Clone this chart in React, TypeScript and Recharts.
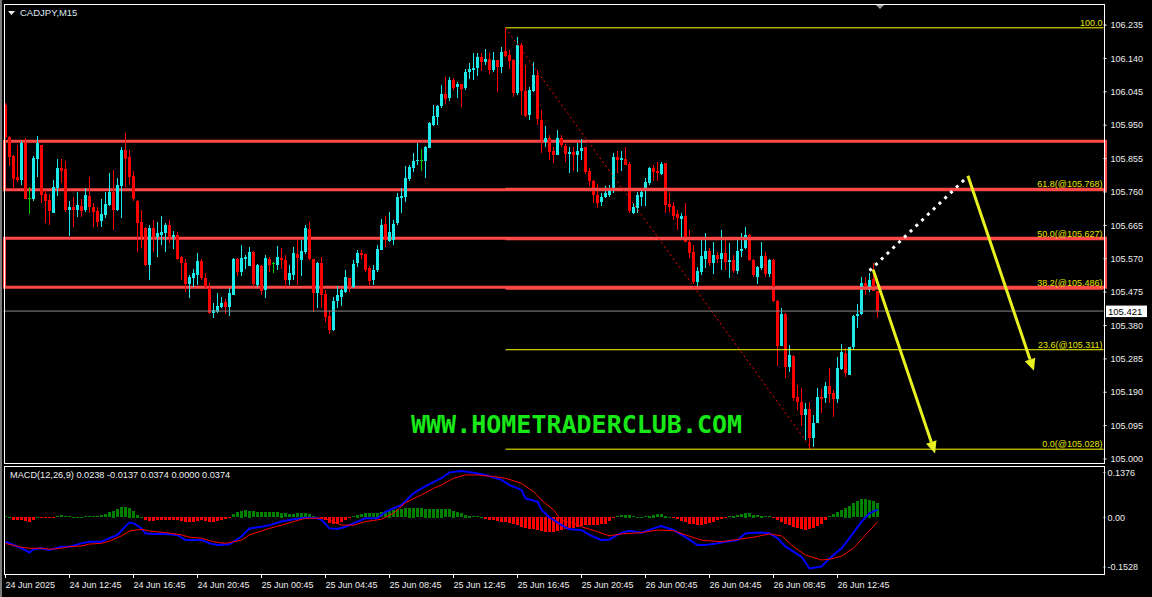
import React from "react";
import {
  ComposedChart,
  Bar,
  Line,
  XAxis,
  YAxis,
  ReferenceLine,
  ReferenceArea,
} from "recharts";

// ---- CADJPY M15 candles (bar 0 = 24 Jun 08:45) ----
const open = [
  106.007, 105.916, 105.862, 105.802, 105.795, 105.900, 105.742, 105.740, 105.854, 105.893,
  105.754, 105.737, 105.701, 105.771, 105.828, 105.825, 105.709, 105.716, 105.709, 105.720,
  105.709, 105.749, 105.718, 105.707, 105.676, 105.694, 105.723, 105.761, 105.709, 105.777,
  105.879, 105.860, 105.805, 105.734, 105.675, 105.657, 105.552, 105.658, 105.633, 105.638,
  105.643, 105.666, 105.631, 105.637, 105.575, 105.559, 105.498, 105.516, 105.524, 105.563,
  105.514, 105.487, 105.416, 105.419, 105.433, 105.448, 105.433, 105.467, 105.569, 105.533,
  105.568, 105.549, 105.590, 105.495, 105.549, 105.481, 105.569, 105.557, 105.552, 105.573,
  105.566, 105.509, 105.524, 105.583, 105.566, 105.590, 105.654, 105.568, 105.473, 105.557,
  105.470, 105.407, 105.367, 105.450, 105.462, 105.476, 105.514, 105.490, 105.557, 105.585,
  105.583, 105.543, 105.509, 105.538, 105.595, 105.668, 105.621, 105.623, 105.671, 105.744,
  105.746, 105.797, 105.827, 105.848, 105.851, 105.849, 105.884, 105.951, 105.973, 106.005,
  106.039, 106.028, 106.079, 106.060, 106.067, 106.055, 106.102, 106.107, 106.112, 106.143,
  106.131, 106.138, 106.106, 106.136, 106.115, 106.160, 106.150, 106.136, 106.041, 106.178,
  106.048, 105.979, 106.048, 106.093, 105.965, 105.903, 105.913, 105.877, 105.865, 105.913,
  105.891, 105.868, 105.874, 105.865, 105.877, 105.887, 105.820, 105.792, 105.751, 105.732,
  105.745, 105.751, 105.770, 105.859, 105.851, 105.855, 105.840, 105.699, 105.713, 105.746,
  105.766, 105.786, 105.827, 105.820, 105.811, 105.842, 105.726, 105.720, 105.697, 105.682,
  105.692, 105.618, 105.590, 105.505, 105.533, 105.568, 105.593, 105.557, 105.581, 105.568,
  105.587, 105.562, 105.566, 105.535, 105.593, 105.600, 105.638, 105.566, 105.519, 105.543,
  105.578, 105.526, 105.566, 105.450, 105.322, 105.413, 105.263, 105.293, 105.176, 105.163,
  105.125, 105.141, 105.059, 105.103, 105.177, 105.173, 105.208, 105.189, 105.170, 105.255,
  105.301, 105.239, 105.318, 105.407, 105.413, 105.500, 105.481, 105.511, 105.479,
];
const high = [
  106.012, 105.918, 105.865, 105.893, 105.905, 105.913, 105.774, 105.862, 105.919, 105.895,
  105.766, 105.754, 105.794, 105.854, 105.854, 105.849, 105.734, 105.746, 105.760, 105.740,
  105.771, 105.803, 105.728, 105.716, 105.740, 105.760, 105.814, 105.823, 105.800, 105.889,
  105.928, 105.880, 105.820, 105.737, 105.709, 105.660, 105.666, 105.680, 105.675, 105.692,
  105.672, 105.680, 105.650, 105.645, 105.578, 105.569, 105.524, 105.540, 105.587, 105.570,
  105.530, 105.500, 105.445, 105.473, 105.460, 105.455, 105.487, 105.572, 105.572, 105.609,
  105.580, 105.604, 105.592, 105.555, 105.552, 105.580, 105.576, 105.562, 105.606, 105.600,
  105.580, 105.552, 105.602, 105.623, 105.623, 105.666, 105.675, 105.568, 105.562, 105.576,
  105.481, 105.424, 105.462, 105.492, 105.483, 105.538, 105.516, 105.565, 105.595, 105.595,
  105.583, 105.550, 105.552, 105.609, 105.683, 105.692, 105.704, 105.680, 105.756, 105.770,
  105.834, 105.836, 105.870, 105.900, 105.882, 105.891, 105.958, 106.007, 106.007, 106.064,
  106.088, 106.088, 106.084, 106.072, 106.067, 106.110, 106.126, 106.155, 106.155, 106.155,
  106.166, 106.155, 106.158, 106.136, 106.172, 106.227, 106.164, 106.138, 106.200, 106.185,
  106.121, 106.060, 106.131, 106.107, 105.993, 105.948, 105.922, 105.887, 105.936, 105.922,
  105.896, 105.887, 105.887, 105.898, 105.910, 105.887, 105.827, 105.794, 105.783, 105.756,
  105.777, 105.780, 105.870, 105.877, 105.877, 105.887, 105.845, 105.728, 105.760, 105.770,
  105.800, 105.830, 105.836, 105.845, 105.846, 105.842, 105.758, 105.730, 105.709, 105.700,
  105.729, 105.652, 105.610, 105.545, 105.623, 105.642, 105.600, 105.618, 105.590, 105.652,
  105.630, 105.614, 105.580, 105.633, 105.643, 105.661, 105.640, 105.570, 105.550, 105.618,
  105.590, 105.570, 105.570, 105.452, 105.429, 105.415, 105.324, 105.296, 105.211, 105.201,
  105.159, 105.163, 105.125, 105.201, 105.198, 105.220, 105.258, 105.196, 105.290, 105.327,
  105.315, 105.320, 105.410, 105.441, 105.517, 105.517, 105.530, 105.557, 105.479,
];
const low = [
  105.910, 105.834, 105.768, 105.788, 105.780, 105.740, 105.697, 105.735, 105.802, 105.730,
  105.672, 105.666, 105.700, 105.749, 105.786, 105.705, 105.635, 105.661, 105.689, 105.689,
  105.704, 105.700, 105.660, 105.660, 105.660, 105.685, 105.720, 105.652, 105.705, 105.686,
  105.775, 105.780, 105.735, 105.590, 105.600, 105.550, 105.509, 105.590, 105.576, 105.609,
  105.590, 105.614, 105.600, 105.566, 105.509, 105.476, 105.458, 105.490, 105.495, 105.510,
  105.485, 105.413, 105.401, 105.416, 105.430, 105.413, 105.408, 105.467, 105.520, 105.522,
  105.540, 105.549, 105.490, 105.490, 105.467, 105.459, 105.533, 105.530, 105.538, 105.540,
  105.490, 105.495, 105.509, 105.495, 105.520, 105.583, 105.568, 105.416, 105.432, 105.430,
  105.391, 105.356, 105.365, 105.430, 105.435, 105.472, 105.476, 105.484, 105.547, 105.568,
  105.533, 105.495, 105.495, 105.533, 105.595, 105.604, 105.618, 105.610, 105.666, 105.699,
  105.732, 105.790, 105.815, 105.837, 105.818, 105.799, 105.884, 105.946, 105.950, 105.998,
  106.012, 106.020, 106.050, 106.026, 106.001, 106.050, 106.081, 106.079, 106.090, 106.103,
  106.121, 106.095, 106.100, 106.045, 106.098, 106.145, 106.110, 106.029, 106.036, 105.979,
  105.972, 105.965, 106.045, 105.951, 105.870, 105.889, 105.851, 105.841, 105.865, 105.889,
  105.846, 105.813, 105.820, 105.816, 105.850, 105.810, 105.777, 105.729, 105.716, 105.720,
  105.742, 105.746, 105.756, 105.813, 105.820, 105.837, 105.700, 105.697, 105.700, 105.720,
  105.720, 105.780, 105.790, 105.790, 105.808, 105.700, 105.704, 105.680, 105.653, 105.633,
  105.618, 105.571, 105.500, 105.492, 105.524, 105.543, 105.550, 105.528, 105.560, 105.538,
  105.540, 105.514, 105.530, 105.528, 105.576, 105.597, 105.562, 105.520, 105.500, 105.538,
  105.520, 105.520, 105.448, 105.263, 105.320, 105.230, 105.248, 105.165, 105.139, 105.092,
  105.054, 105.028, 105.035, 105.100, 105.130, 105.160, 105.158, 105.119, 105.160, 105.253,
  105.233, 105.239, 105.310, 105.372, 105.410, 105.467, 105.476, 105.476, 105.403,
];
const close = [
  105.916, 105.860, 105.796, 105.795, 105.900, 105.740, 105.742, 105.857, 105.900, 105.751,
  105.735, 105.707, 105.774, 105.828, 105.820, 105.709, 105.718, 105.709, 105.723, 105.707,
  105.751, 105.717, 105.704, 105.674, 105.698, 105.726, 105.761, 105.709, 105.780, 105.879,
  105.854, 105.803, 105.740, 105.672, 105.633, 105.552, 105.658, 105.633, 105.644, 105.647,
  105.666, 105.633, 105.637, 105.569, 105.557, 105.498, 105.519, 105.530, 105.564, 105.514,
  105.490, 105.416, 105.424, 105.435, 105.445, 105.433, 105.473, 105.569, 105.533, 105.571,
  105.574, 105.590, 105.498, 105.552, 105.478, 105.573, 105.552, 105.557, 105.574, 105.566,
  105.509, 105.528, 105.585, 105.573, 105.593, 105.656, 105.568, 105.473, 105.557, 105.467,
  105.405, 105.367, 105.450, 105.467, 105.481, 105.519, 105.490, 105.555, 105.585, 105.581,
  105.538, 105.507, 105.538, 105.598, 105.666, 105.623, 105.645, 105.670, 105.746, 105.749,
  105.799, 105.830, 105.848, 105.851, 105.851, 105.887, 105.955, 105.976, 106.005, 106.039,
  106.025, 106.079, 106.057, 106.067, 106.053, 106.102, 106.109, 106.114, 106.143, 106.131,
  106.138, 106.106, 106.136, 106.115, 106.158, 106.147, 106.134, 106.041, 106.178, 106.048,
  105.977, 106.050, 106.093, 105.967, 105.908, 105.913, 105.875, 105.865, 105.913, 105.894,
  105.868, 105.874, 105.865, 105.877, 105.884, 105.818, 105.792, 105.751, 105.729, 105.746,
  105.756, 105.770, 105.859, 105.851, 105.857, 105.837, 105.705, 105.716, 105.751, 105.760,
  105.789, 105.827, 105.818, 105.813, 105.840, 105.723, 105.716, 105.692, 105.685, 105.692,
  105.618, 105.585, 105.505, 105.536, 105.578, 105.593, 105.557, 105.581, 105.568, 105.587,
  105.562, 105.566, 105.535, 105.593, 105.599, 105.638, 105.566, 105.524, 105.547, 105.578,
  105.526, 105.566, 105.450, 105.322, 105.413, 105.263, 105.296, 105.173, 105.163, 105.125,
  105.141, 105.059, 105.103, 105.177, 105.170, 105.208, 105.185, 105.170, 105.258, 105.305,
  105.244, 105.320, 105.407, 105.413, 105.500, 105.486, 105.509, 105.479, 105.421,
];

// MACD histogram as drawn, one per bar
const histogram = [
  0.003, 0.002, -0.008, -0.008, -0.01, -0.012, -0.016, -0.01, 0.002, -0.004,
  -0.004, -0.004, -0.003, 0.004, 0.006, 0.004, 0.003, 0.002, 0.002, 0.002,
  0.003, 0.003, 0.004, 0.004, 0.006, 0.01, 0.016, 0.02, 0.026, 0.032,
  0.032, 0.03, 0.02, 0.008, 0.002, -0.01, -0.012, -0.012, -0.01, -0.01,
  -0.01, -0.008, -0.008, -0.01, -0.012, -0.014, -0.015, -0.015, -0.012, -0.01,
  -0.012, -0.014, -0.014, -0.012, -0.01, -0.006, -0.003, 0.01, 0.016, 0.02,
  0.022, 0.02, 0.018, 0.016, 0.016, 0.016, 0.016, 0.016, 0.016, 0.014,
  0.012, 0.01, 0.01, 0.012, 0.014, 0.014, 0.01, 0.004, 0.001, -0.004,
  -0.01, -0.018, -0.022, -0.02, -0.014, -0.008, -0.003, 0.004, 0.008, 0.01,
  0.012, 0.012, 0.012, 0.014, 0.016, 0.018, 0.02, 0.022, 0.024, 0.026,
  0.028, 0.03, 0.03, 0.029, 0.028, 0.027, 0.027, 0.027, 0.027, 0.027,
  0.026, 0.025, 0.02, 0.016, 0.012, 0.008, 0.005, 0.004, 0.003, 0.002,
  -0.005, -0.008, -0.01, -0.013, -0.014, -0.016, -0.018, -0.02, -0.025, -0.03,
  -0.035, -0.036, -0.038, -0.04, -0.042, -0.045, -0.047, -0.045, -0.042, -0.039,
  -0.037, -0.035, -0.033, -0.03, -0.027, -0.026, -0.024, -0.024, -0.024, -0.022,
  -0.02, -0.012, -0.002, 0.003, 0.006, 0.008, 0.008, 0.004, 0.002, 0.002,
  0.003, 0.005, 0.008, 0.01, 0.009, 0.005, 0.001, -0.003, -0.007, -0.011,
  -0.016, -0.02, -0.022, -0.026, -0.025, -0.022, -0.018, -0.014, -0.009, -0.005,
  -0.002, 0.003, 0.005, 0.007, 0.01, 0.014, 0.012, 0.008, 0.006, 0.005,
  0.004, 0.004, -0.004, -0.01, -0.014, -0.02, -0.024, -0.03, -0.035, -0.038,
  -0.04, -0.038, -0.034, -0.028, -0.02, -0.01, 0.004, 0.01, 0.015, 0.022,
  0.03, 0.036, 0.044, 0.05, 0.055, 0.055, 0.054, 0.05, 0.044,
];

const macdMain: [number, number][] = [
  [0, -0.075], [2, -0.085], [4, -0.095], [6, -0.108], [7, -0.098], [9, -0.095], [11, -0.1],
  [14, -0.09], [16, -0.09], [19, -0.08], [21, -0.075], [24, -0.075], [26, -0.064], [28, -0.054],
  [30, -0.027], [31, -0.016], [32, -0.018], [34, -0.034], [35, -0.049], [37, -0.051], [40, -0.051],
  [43, -0.054], [45, -0.07], [49, -0.07], [51, -0.08], [53, -0.085], [56, -0.083], [59, -0.059],
  [61, -0.034], [64, -0.029], [66, -0.024], [69, -0.013], [72, -0.006], [75, -0.001], [78, -0.003],
  [79, -0.008], [81, -0.034], [83, -0.036], [85, -0.029], [88, -0.013], [90, -0.003], [93, -0.003],
  [95, 0.017], [99, 0.038], [102, 0.074], [105, 0.096], [109, 0.12], [111, 0.138], [114, 0.142],
  [117, 0.137], [120, 0.13], [124, 0.115], [126, 0.099], [129, 0.084], [130, 0.058], [133, 0.048],
  [134, 0.023], [136, 0.0], [139, -0.024], [141, -0.037], [144, -0.039], [146, -0.054], [149, -0.07],
  [151, -0.068], [154, -0.047], [156, -0.041], [159, -0.047], [162, -0.034], [164, -0.027],
  [167, -0.039], [170, -0.061], [173, -0.085], [175, -0.085], [178, -0.08], [180, -0.075],
  [183, -0.07], [185, -0.049], [189, -0.047], [191, -0.049], [193, -0.064], [195, -0.09],
  [199, -0.121], [201, -0.157], [204, -0.151], [206, -0.126], [209, -0.095], [211, -0.064],
  [214, -0.013], [216, 0.012], [218, 0.0238],
];
const macdSignal: [number, number][] = [
  [0, -0.08], [4, -0.092], [6, -0.095], [9, -0.095], [11, -0.098], [14, -0.095], [16, -0.09],
  [19, -0.088], [21, -0.082], [24, -0.08], [26, -0.073], [29, -0.057], [31, -0.042], [34, -0.037],
  [36, -0.042], [40, -0.047], [44, -0.054], [46, -0.061], [49, -0.064], [52, -0.075], [55, -0.08],
  [59, -0.07], [61, -0.054], [64, -0.042], [66, -0.034], [69, -0.024], [72, -0.013], [75, -0.003],
  [79, -0.003], [81, -0.008], [84, -0.024], [87, -0.024], [90, -0.013], [94, -0.006], [97, 0.012],
  [100, 0.045], [104, 0.069], [107, 0.089], [109, 0.099], [112, 0.12], [115, 0.13], [118, 0.13],
  [122, 0.125], [125, 0.12], [129, 0.104], [132, 0.079], [134, 0.053], [137, 0.023], [139, -0.01],
  [142, -0.018], [144, -0.029], [148, -0.044], [151, -0.057], [154, -0.051], [159, -0.047],
  [163, -0.039], [167, -0.041], [170, -0.054], [174, -0.07], [179, -0.075], [183, -0.068],
  [187, -0.061], [191, -0.051], [194, -0.057], [197, -0.09], [200, -0.116], [204, -0.131],
  [206, -0.129], [209, -0.119], [212, -0.095], [215, -0.054], [218, -0.0137],
];

const tickBars = [0, 16, 32, 48, 64, 80, 96, 112, 128, 144, 160, 176, 192, 208];
const timeLabels = [
  "24 Jun 2025", "24 Jun 12:45", "24 Jun 16:45", "24 Jun 20:45", "25 Jun 00:45",
  "25 Jun 04:45", "25 Jun 08:45", "25 Jun 12:45", "25 Jun 16:45", "25 Jun 20:45",
  "26 Jun 00:45", "26 Jun 04:45", "26 Jun 08:45", "26 Jun 12:45",
];
const priceTicks = [
  105.0, 105.095, 105.19, 105.285, 105.38, 105.475, 105.57, 105.665, 105.76, 105.855,
  105.95, 106.045, 106.14, 106.235,
];
const macdTicks = [-0.1528, 0, 0.1376];

// fibo retracement drawn from the 125th bar high to the low
const fibLevels: [string, number][] = [
  ["100.0", 106.227],
  ["61.8(@105.768)", 105.768],
  ["50.0(@105.627)", 105.627],
  ["38.2(@105.486)", 105.486],
  ["23.6(@105.311)", 105.311],
  ["0.0(@105.028)", 105.028],
];
const fibStart = 125;
const fibTrend: [number, number][] = [[125, 106.227], [201.6, 105.028]];
const zones: [number, number][] = [[105.904, 105.766], [105.628, 105.489]];
const projection: [number, number][] = [[216.0, 105.536], [240.45, 105.803]];
const arrows: [number, number][][] = [
  [[216.9, 105.539], [232.4, 105.016]],
  [[240.6, 105.806], [257.1, 105.251]],
];
const lastPrice = 105.421;
const SLOTS = 275;

const FONT = '"Liberation Sans", Arial, sans-serif';
const BULL = "#1ee8e8";
const BEAR = "#ff0000";
const DOJI = "#00c800";
const AXIS_TEXT = "#eeeeee";
const FIB = "#ffff00";
const ZONE = "#ff4848";
const ARROW = "#e8f020";

const rows = Array.from({ length: SLOTS }, (_, i) =>
  i < open.length
    ? {
        i,
        o: open[i],
        h: high[i],
        l: low[i],
        c: close[i],
        range: [low[i], high[i]],
        hist: histogram[i],
      }
    : { i }
);
const macdData = macdMain.map(([i, v]) => ({ i, v }));
const signalData = macdSignal.map(([i, v]) => ({ i, v }));

// a fibo line lying on a zone edge is hidden by the thick red edge in MT4
const underZone = (price: number) =>
  zones.some(([t, b]) => Math.abs(t - price) < 0.004 || Math.abs(b - price) < 0.004);

// eslint-disable-next-line @typescript-eslint/no-explicit-any
function Candle(p: any) {
  const { x, y, width, height, payload } = p;
  if (!payload || payload.o == null || !Number.isFinite(y)) return <g />;
  const { o, h, l, c } = payload;
  const span = h - l;
  const py = (v: number) => (span > 0 ? y + ((h - v) / span) * height : y);
  const cx = Math.floor(x + width / 2);
  const color = c > o ? BULL : c < o ? BEAR : DOJI;
  const top = Math.round(py(Math.max(o, c)));
  const bot = Math.round(py(Math.min(o, c)));
  return (
    <g shapeRendering="crispEdges">
      <rect x={cx} y={Math.round(y)} width={1} height={Math.max(Math.round(height), 1)} fill={color} />
      <rect x={cx - 1} y={top} width={3} height={Math.max(bot - top, 1)} fill={color} />
    </g>
  );
}

// eslint-disable-next-line @typescript-eslint/no-explicit-any
function HistBar(p: any) {
  const { x, y, width, height, payload } = p;
  if (!payload || payload.hist == null || !Number.isFinite(y)) return <g />;
  const cx = Math.floor(x + width / 2);
  const top = Math.min(y, y + height);
  return (
    <rect
      shapeRendering="crispEdges"
      x={cx - 1}
      y={Math.round(top)}
      width={3}
      height={Math.max(Math.round(Math.abs(height)), 1)}
      fill={payload.hist >= 0 ? "#008000" : "#ff0000"}
    />
  );
}

// eslint-disable-next-line @typescript-eslint/no-explicit-any
function TimeTick(p: any) {
  const { x, y, payload } = p;
  const label = timeLabels[tickBars.indexOf(payload.value)];
  const tx = Math.floor(x) + 0.5;
  return (
    <g>
      <line x1={tx} y1={y} x2={tx} y2={y + 4} stroke="#fff" />
      <text x={tx} y={y + 13.5} fill={AXIS_TEXT} fontSize={9} fontFamily={FONT}>
        {label}
      </text>
    </g>
  );
}

// eslint-disable-next-line @typescript-eslint/no-explicit-any
function ArrowShape(p: any) {
  const { x1, y1, x2, y2 } = p;
  const a = Math.atan2(y2 - y1, x2 - x1);
  const len = 12;
  const hw = 5.5;
  const bx = x2 - len * Math.cos(a);
  const by = y2 - len * Math.sin(a);
  const nx = -Math.sin(a) * hw;
  const ny = Math.cos(a) * hw;
  return (
    <g>
      <line x1={x1} y1={y1} x2={bx} y2={by} stroke={ARROW} strokeWidth={3} />
      <polygon points={`${x2},${y2} ${bx + nx},${by + ny} ${bx - nx},${by - ny}`} fill={ARROW} />
    </g>
  );
}

const fibLabel = (text: string) =>
  // eslint-disable-next-line @typescript-eslint/no-explicit-any
  (p: any) => {
    const vb = p.viewBox;
    return (
      <text
        x={vb.x + vb.width - 1}
        y={vb.y - 2}
        textAnchor="end"
        fill="#e4e400"
        fontSize={9}
        fontFamily={FONT}
      >
        {text}
      </text>
    );
  };

// eslint-disable-next-line @typescript-eslint/no-explicit-any
const priceTag = (p: any) => {
  const vb = p.viewBox;
  const x = vb.x + vb.width + 2.5;
  return (
    <g>
      <rect x={x} y={vb.y - 5.5} width={41} height={11.5} fill="#fff" />
      <text x={x + 2} y={vb.y + 3.5} fill="#000" fontSize={9.5} fontFamily={FONT}>
        {lastPrice.toFixed(3)}
      </text>
    </g>
  );
};

export default function App() {
  return (
    <div
      style={{
        position: "absolute",
        left: 0,
        top: 0,
        width: 1152,
        height: 597,
        background: "#000",
        overflow: "hidden",
        fontFamily: FONT,
      }}
    >
      {/* price panel */}
      <div style={{ position: "absolute", left: 0, top: 0 }}>
        <ComposedChart
          width={1152}
          height={465}
          data={rows}
          margin={{ top: 5, right: 0, bottom: 3, left: 3.5 }}
          barCategoryGap={0}
          barGap={0}
        >
          <XAxis xAxisId="c" dataKey="i" type="category" hide />
          <XAxis
            xAxisId="n"
            dataKey="i"
            type="number"
            domain={[-0.5, SLOTS - 0.5]}
            allowDataOverflow
            hide
          />
          <YAxis
            orientation="right"
            width={48.5}
            domain={[104.9915, 106.292]}
            allowDataOverflow
            ticks={priceTicks}
            interval={0}
            tickFormatter={(v: number) => v.toFixed(3)}
            tick={{ fill: AXIS_TEXT, fontSize: 9, fontFamily: FONT }}
            tickSize={3}
            tickMargin={4}
            tickLine={{ stroke: "#fff" }}
            axisLine={false}
          />

          {fibLevels.map(([text, price]) => (
            <ReferenceLine
              key={text}
              xAxisId="n"
              segment={[
                { x: fibStart, y: price },
                { x: SLOTS - 0.5, y: price },
              ]}
              stroke={underZone(price) ? ZONE : FIB}
              strokeWidth={underZone(price) ? 3 : 1}
              ifOverflow="visible"
              label={fibLabel(text)}
            />
          ))}

          <ReferenceLine
            xAxisId="n"
            segment={fibTrend.map(([x, y]) => ({ x, y }))}
            stroke="#ff0000"
            strokeDasharray="2 3"
            ifOverflow="visible"
          />

          <ReferenceLine
            xAxisId="n"
            y={lastPrice}
            stroke="#8a8a8a"
            ifOverflow="visible"
            label={priceTag}
          />

          <Bar
            xAxisId="c"
            dataKey="range"
            shape={<Candle />}
            isAnimationActive={false}
          />

          {zones.map(([top, bottom]) => (
            <ReferenceArea
              key={top}
              xAxisId="n"
              x1={-0.25}
              x2={SLOTS}
              y1={bottom}
              y2={top}
              stroke={ZONE}
              strokeWidth={3}
              fill="none"
              fillOpacity={0}
              ifOverflow="visible"
            />
          ))}

          <ReferenceLine
            xAxisId="n"
            segment={projection.map(([x, y]) => ({ x, y }))}
            stroke="#ffffff"
            strokeWidth={3}
            strokeDasharray="3 5"
            ifOverflow="visible"
          />

          {arrows.map((seg, k) => (
            <ReferenceLine
              key={k}
              xAxisId="n"
              segment={seg.map(([x, y]) => ({ x, y }))}
              ifOverflow="visible"
              shape={ArrowShape}
            />
          ))}
        </ComposedChart>
      </div>

      {/* MACD panel */}
      <div style={{ position: "absolute", left: 0, top: 462 }}>
        <ComposedChart
          width={1152}
          height={135}
          data={rows}
          margin={{ top: 4, right: 0, bottom: 0, left: 3.5 }}
          barCategoryGap={0}
          barGap={0}
        >
          <XAxis
            xAxisId="c"
            dataKey="i"
            type="category"
            ticks={tickBars}
            interval={0}
            tick={<TimeTick />}
            tickSize={0}
            tickMargin={0}
            tickLine={false}
            axisLine={false}
            height={23}
          />
          <XAxis
            xAxisId="n"
            dataKey="i"
            type="number"
            domain={[-0.5, SLOTS - 0.5]}
            allowDataOverflow
            hide
          />
          <YAxis
            orientation="right"
            width={48.5}
            domain={[-0.174, 0.1575]}
            allowDataOverflow
            ticks={macdTicks}
            interval={0}
            tickFormatter={(v: number) => (v === 0 ? "0.00" : v.toFixed(4))}
            tick={{ fill: AXIS_TEXT, fontSize: 9, fontFamily: FONT }}
            tickSize={2}
            tickMargin={2}
            tickLine={{ stroke: "#fff" }}
            axisLine={false}
          />
          <Bar xAxisId="c" dataKey="hist" shape={<HistBar />} isAnimationActive={false} />
          <Line
            xAxisId="n"
            data={macdData}
            dataKey="v"
            stroke="#0000ff"
            strokeWidth={2}
            dot={false}
            activeDot={false}
            isAnimationActive={false}
          />
          <Line
            xAxisId="n"
            data={signalData}
            dataKey="v"
            stroke="#ff0000"
            strokeWidth={1}
            dot={false}
            activeDot={false}
            isAnimationActive={false}
          />
        </ComposedChart>
      </div>

      {/* panel frames */}
      <div
        style={{
          position: "absolute",
          left: 4,
          top: 4,
          width: 1101,
          height: 460,
          border: "1px solid #fff",
          boxSizing: "border-box",
          pointerEvents: "none",
        }}
      />
      <div
        style={{
          position: "absolute",
          left: 4,
          top: 466,
          width: 1101,
          height: 109,
          border: "1px solid #fff",
          boxSizing: "border-box",
          pointerEvents: "none",
        }}
      />
      <div style={{ position: "absolute", left: 0, top: 0, width: 2, height: 597, background: "#7a7a7a" }} />

      {/* texts drawn on the chart */}
      <svg
        width={1152}
        height={597}
        style={{ position: "absolute", left: 0, top: 0, pointerEvents: "none" }}
      >
        <polygon points="8,11 15,11 11.5,15" fill="#f0f0f0" />
        <text x={20} y={16} fill="#dfe8f2" fontSize={9.5} fontFamily={FONT}>
          CADJPY,M15
        </text>
        <polygon points="876,5 884,5 880,9" fill="#9a9a9a" />
        <text
          x={411}
          y={433}
          fill="#18e818"
          fontSize={25}
          fontWeight="bold"
          fontFamily='"DejaVu Sans Mono", monospace'
        >
          WWW.HOMETRADERCLUB.COM
        </text>
        <text x={10} y={478} fill="#eeeeee" fontSize={9.2} fontFamily={FONT}>
          MACD(12,26,9) 0.0238 -0.0137 0.0374 0.0000 0.0374
        </text>
      </svg>
    </div>
  );
}
